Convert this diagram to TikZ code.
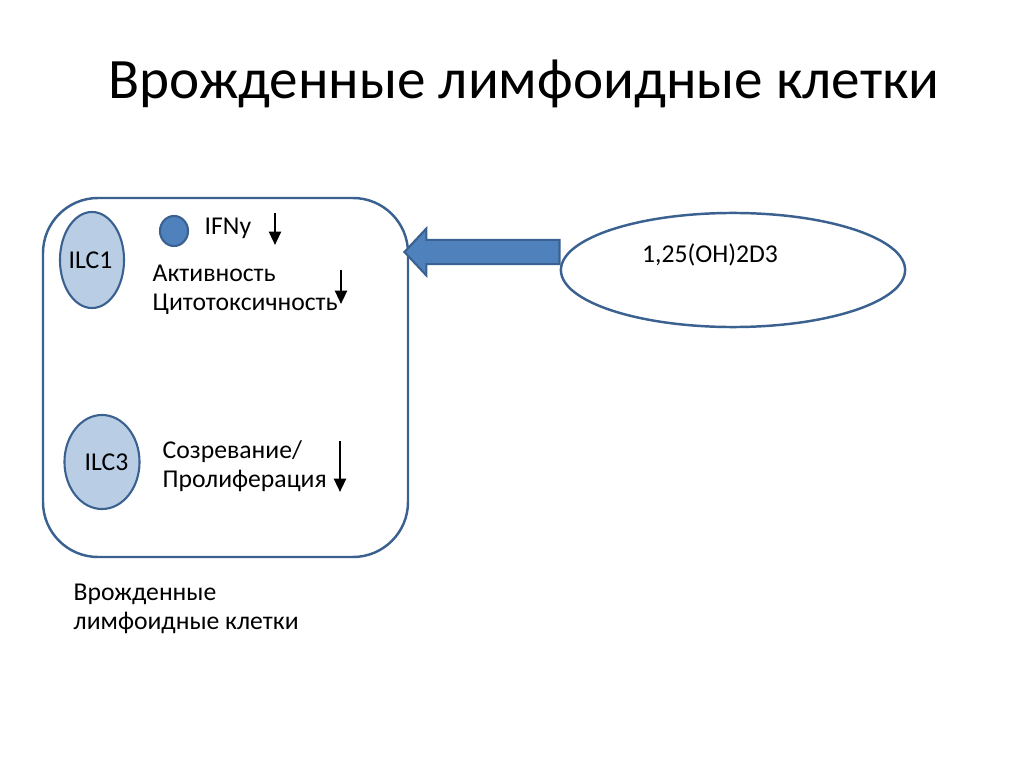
\documentclass[tikz,border=0pt]{standalone}
\usepackage{fontspec}
\setmainfont{Carlito}
\usetikzlibrary{arrows.meta,shapes.geometric,shapes.arrows}
\definecolor{ilcline}{HTML}{3B6190}
\definecolor{ilcfill}{HTML}{B9CDE5}
\definecolor{ilcdark}{HTML}{4F81BD}
\tikzset{
  cellshape/.style={ellipse, draw=ilcline, line width=0.6pt, fill=ilcfill, inner sep=0pt},
  celltext/.style={inner sep=0pt, anchor=west, font=\fontsize{7.3}{8.4}\selectfont, align=left},
  downarrow/.style={line width=0.7pt, -{Triangle[length=3.8pt, width=3.4pt]}}
}
\begin{document}
\begin{tikzpicture}[x=0.01cm, y=-0.01cm]
  \useasboundingbox (0,0) rectangle (1024,767);
  \node[inner sep=0pt, font=\fontsize{16.25}{19}\selectfont] (title) at (524,84) {Врожденные лимфоидные клетки};
  % the big box
  \draw[ilcline, line width=0.7pt, rounded corners=0.55cm] (43,198) rectangle (408,557);
  \coordinate (boxin) at (403,252);
  \node[cellshape, minimum width=0.64cm, minimum height=0.96cm] (ilc1) at (92,260) {};
  \node[celltext] at (68,260) {ILC1};
  \node[ellipse, draw=ilcline, line width=0.6pt, fill=ilcdark, minimum width=0.28cm, minimum height=0.3cm, inner sep=0pt] (ifndot) at (174,231) {};
  \node[celltext] (ifn) at (204,228) {IFNy};
  \coordinate (a1top) at (275,213);
  \coordinate (a1bot) at (275,245);
  \draw[downarrow] (a1top) -- (a1bot);
  \node[celltext] (activ) at (152,273) {Активность};
  \node[celltext] (cyto) at (152,304) {Цитотоксичность};
  \coordinate (a2top) at (341,270);
  \coordinate (a2bot) at (341,304);
  \draw[downarrow] (a2top) -- (a2bot);
  \node[cellshape, minimum width=0.75cm, minimum height=0.94cm] (ilc3) at (102,462) {};
  \node[celltext] at (84,462) {ILC3};
  \node[celltext] (matur) at (162,466) {Созревание/\\Пролиферация};
  \coordinate (a3top) at (340,441);
  \coordinate (a3bot) at (340,492);
  \draw[downarrow] (a3top) -- (a3bot);
  \node[celltext] (caption) at (73,609) {Врожденные\\лимфоидные клетки};
  % vitamin D
  \node[ellipse, draw=ilcline, line width=0.7pt, fill=white, minimum width=3.44cm, minimum height=1.14cm, inner sep=0pt] (vitd) at (733,270) {};
  \node[inner sep=0pt, font=\fontsize{7.3}{8.4}\selectfont] (vitdtext) at (710,255) {1,25(OH)2D3};
  \node[single arrow, shape border rotate=180, draw=ilcline, line width=0.6pt, fill=ilcdark, minimum height=1.55cm, inner xsep=0pt, inner ysep=0.11cm, single arrow head extend=0.115cm, single arrow tip angle=94, anchor=tip] (bigarrow) at (boxin) {};
\end{tikzpicture}
\end{document}
